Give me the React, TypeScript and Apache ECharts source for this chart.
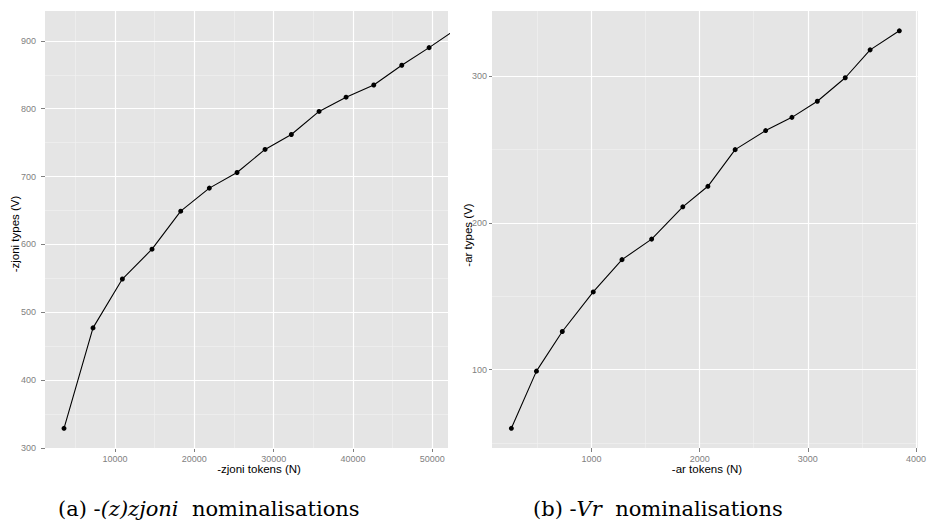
import React, { useEffect, useRef } from "react";
import * as echarts from "echarts";

// Panel (a): -(z)zjoni nominalisations
const zjoniTokens = [3569, 7226, 10925, 14666, 18283, 21892, 25384, 28915, 32232, 35724, 39129, 42622, 46151, 49595, 53100];
const zjoniTypes = [329, 477, 549, 593, 649, 683, 706, 740, 762, 796, 817, 835, 864, 890, 918];
const zjoniXTicks = [10000, 20000, 30000, 40000, 50000];
const zjoniXMinor = [5000, 15000, 25000, 35000, 45000];
const zjoniYTicks = [300, 400, 500, 600, 700, 800, 900];
const zjoniYMinor = [350, 450, 550, 650, 750, 850];

// Panel (b): -Vr nominalisations
const arTokens = [259, 491, 730, 1016, 1282, 1556, 1844, 2076, 2328, 2610, 2853, 3088, 3346, 3576, 3846];
const arTypes = [60, 99, 126, 153, 175, 189, 211, 225, 250, 263, 272, 283, 299, 318, 331];
const arXTicks = [1000, 2000, 3000, 4000];
const arXMinor = [500, 1500, 2500, 3500];
const arYTicks = [100, 200, 300];
const arYMinor = [50, 150, 250];

const TICK_GREY = "#7f7f7f";
const SANS = "'Liberation Sans', Arial, sans-serif";
const SERIF = "'DejaVu Serif', serif";

function gridMarkLines(xMajor: number[], xMinor: number[], yMajor: number[], yMinor: number[]) {
  const minorStyle = { color: "#f0f0f0", width: 0.7, type: "solid" as const };
  const majorStyle = { color: "#ffffff", width: 1.2, type: "solid" as const };
  return [
    ...xMinor.map((v) => ({ xAxis: v, lineStyle: minorStyle })),
    ...yMinor.map((v) => ({ yAxis: v, lineStyle: minorStyle })),
    ...xMajor.map((v) => ({ xAxis: v, lineStyle: majorStyle })),
    ...yMajor.map((v) => ({ yAxis: v, lineStyle: majorStyle })),
  ];
}

const plain = (v: number) => String(Math.round(v));

function xAxisFor(gridIndex: number, min: number, max: number, ticks: number[]) {
  return {
    type: "value" as const,
    gridIndex,
    min,
    max,
    axisLine: { show: false },
    splitLine: { show: false },
    axisTick: { show: true, length: 4, customValues: ticks, lineStyle: { color: TICK_GREY, width: 1 } },
    axisLabel: {
      customValues: ticks,
      formatter: plain,
      color: TICK_GREY,
      fontSize: 9,
      fontFamily: SANS,
      margin: 6,
    },
  };
}

function yAxisFor(gridIndex: number, min: number, max: number, ticks: number[], margin: number, tickLen: number) {
  return {
    type: "value" as const,
    gridIndex,
    min,
    max,
    axisLine: { show: false },
    splitLine: { show: false },
    axisTick: { show: true, length: tickLen, customValues: ticks, lineStyle: { color: TICK_GREY, width: 1 } },
    axisLabel: {
      customValues: ticks,
      formatter: plain,
      color: TICK_GREY,
      fontSize: 9,
      fontFamily: SANS,
      margin,
    },
  };
}

export default function App() {
  const ref = useRef<HTMLDivElement>(null);

  useEffect(() => {
    document.body.style.margin = "0";
    if (!ref.current) return;
    const chart = echarts.init(ref.current, null, { renderer: "svg" });

    const pairs = (xs: number[], ys: number[]) => xs.map((x, i) => [x, ys[i]]);

    const dataSeries = (xi: number, xs: number[], ys: number[]) => ({
      type: "line" as const,
      xAxisIndex: xi,
      yAxisIndex: xi,
      data: pairs(xs, ys),
      clip: true,
      z: 3,
      symbol: "circle",
      symbolSize: 5,
      itemStyle: { color: "#000000" },
      lineStyle: { color: "#000000", width: 1.1 },
      silent: true,
    });

    const gridSeries = (xi: number, xs: number[], ys: number[], ml: any[]) => ({
      type: "line" as const,
      xAxisIndex: xi,
      yAxisIndex: xi,
      data: pairs(xs, ys),
      symbol: "none",
      lineStyle: { opacity: 0 },
      silent: true,
      z: 1,
      markLine: {
        silent: true,
        symbol: "none",
        z: 1,
        animation: false,
        label: { show: false },
        data: ml,
      },
    });

    const caption = (x: number, label: string, italic: string) => ({
      type: "text",
      x,
      y: 519,
      style: {
        text: `{n|${label} -}{i|${italic}}{n|  nominalisations}`,
        fill: "#000",
        align: "left",
        verticalAlign: "bottom",
        rich: {
          n: { fontFamily: SERIF, fontSize: 21, fill: "#000", fontStyle: "normal" },
          i: { fontFamily: SERIF, fontSize: 21, fill: "#000", fontStyle: "italic" },
        },
      },
    });

    chart.setOption({
      animation: false,
      grid: [
        { left: 45, top: 11, width: 403, height: 437, show: true, backgroundColor: "#e5e5e5", borderWidth: 0 },
        { left: 492, top: 11, width: 428, height: 437, show: true, backgroundColor: "#e5e5e5", borderWidth: 0 },
      ],
      xAxis: [xAxisFor(0, 1173, 51980, zjoniXTicks), xAxisFor(1, 80, 4016, arXTicks)],
      yAxis: [yAxisFor(0, 300, 944, zjoniYTicks, 9, 4), yAxisFor(1, 46.6, 344.5, arYTicks, 5, 3)],
      series: [
        gridSeries(0, zjoniTokens, zjoniTypes, gridMarkLines(zjoniXTicks, zjoniXMinor, zjoniYTicks, zjoniYMinor)),
        gridSeries(1, arTokens, arTypes, gridMarkLines(arXTicks, arXMinor, arYTicks, arYMinor)),
        dataSeries(0, zjoniTokens, zjoniTypes),
        dataSeries(1, arTokens, arTypes),
      ],
      graphic: [
        {
          type: "text",
          x: 15,
          y: 234,
          rotation: Math.PI / 2,
          style: { text: "-zjoni types (V)", fill: "#000", font: `11.5px ${SANS}`, align: "center", verticalAlign: "middle" },
        },
        {
          type: "text",
          x: 468,
          y: 235,
          rotation: Math.PI / 2,
          style: { text: "-ar types (V)", fill: "#000", font: `11.5px ${SANS}`, align: "center", verticalAlign: "middle" },
        },
        {
          type: "text",
          x: 259,
          y: 469,
          style: { text: "-zjoni tokens (N)", fill: "#000", font: `11.5px ${SANS}`, align: "center", verticalAlign: "middle" },
        },
        {
          type: "text",
          x: 707,
          y: 469,
          style: { text: "-ar tokens (N)", fill: "#000", font: `11.5px ${SANS}`, align: "center", verticalAlign: "middle" },
        },
        caption(58, "(a)", "(z)zjoni"),
        caption(533, "(b)", "Vr"),
      ],
    });

    return () => chart.dispose();
  }, []);

  return <div ref={ref} style={{ position: "fixed", left: 0, top: 0, width: 929, height: 521, background: "#ffffff" }} />;
}
